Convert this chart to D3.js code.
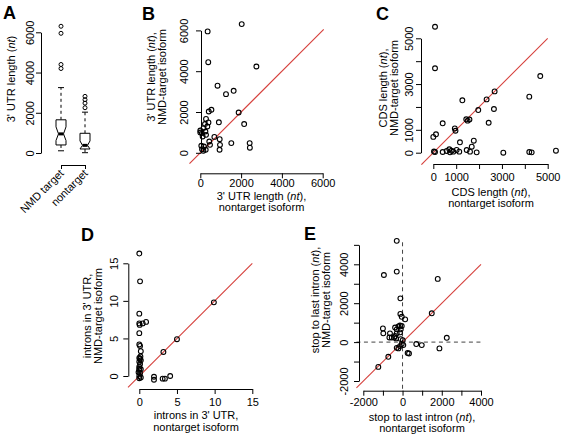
<!DOCTYPE html>
<html><head><meta charset="utf-8">
<script src="https://cdn.jsdelivr.net/npm/d3@7"></script>
<style>
body{margin:0;background:#fff;}
svg{display:block;}
text{font-family:"Liberation Sans",Arial,Helvetica,sans-serif;fill:#000;}
</style></head><body>
<svg id="chart" width="563" height="437"></svg>
<script>
// ---------------- data ----------------
// Panel A: boxplot summary (3' UTR length, nt)
const boxCategories = ["NMD target", "nontarget"];
const boxQ1 = [400, 200];
const boxMedian = [950, 380];
const boxQ3 = [1650, 980];
const boxNotchLow = [620, 200];
const boxNotchHigh = [1300, 600];
const boxWhiskerLow = [110, 15];
const boxWhiskerHigh = [3250, 2030];
const boxOutliersNMD = [4200, 4400, 5950, 6300];
const boxOutliersNontarget = [2250, 2480, 2650, 2815];
const boxTicks = [0, 2000, 4000, 6000];

// Panel B: 3' UTR length
const utrNontarget = [2030,360,390,2750,845,1635,1260,545,415,1880,2150,910,280,400,230,345,160,0,250,80,280,115,0,690,440,950,965,945,1520,2420,2430,180,85,265,150,475,50];
const utrNMD = [6310,5950,4440,4230,3290,3040,2875,2110,2025,1975,1410,1495,1660,1490,1410,1290,1210,1090,1045,965,880,800,995,780,555,670,390,150,475,475,250,310,180,150,100,390,345];
const utrTicks = [0, 2000, 4000, 6000];
const utrDiag = [-530, 6050];

// Panel C: CDS length
const cdsNontarget = [75,75,4675,2680,2330,4195,1270,2650,1965,1440,1580,1500,2420,410,940,970,118,0,1165,1770,1680,30,75,410,585,730,875,1020,1135,1460,1605,1895,3060,4195,4300,5360,700,800];
const cdsNMD = [5505,3690,3350,2680,2330,2450,2290,1910,1865,1460,1450,1400,1310,1285,1060,960,805,690,455,525,262,50,30,30,75,15,45,120,45,118,45,15,0,30,15,87,150,90];
const cdsTicks = [0, 1000, 2000, 3000, 4000, 5000];
const cdsTickLabels = [0, 1000, 3000, 5000];
const cdsDiag = [-520, 5000];

// Panel D: introns in 3' UTR
const intronsNontarget = [0,0.1,9.9,0,0,0.45,0.9,5,3.2,0,0,0.1,0.2,0,0.2,0,0.1,0,0.2,0,0.1,0,0.2,-0.1,1.95,1.95,3.1,3.4,4.1,0,0.1,0,0.15,0.05];
const intronsNMD = [16.3,12.6,9.8,8.3,7.0,7.0,7.2,4.9,3.2,5.7,4.2,4.0,3.3,2.4,2.1,1.9,1.6,1.25,0.9,0.8,0.35,0,-0.2,0.5,-0.1,-0.5,-0.35,-0.35,0,1.0,2.3,-0.3,2.6,6.8];
const intronsTicks = [0, 5, 10, 15];
const intronsDiag = [-1.5, 15];

// Panel E: stop to last intron
const stopNontarget = [-295,-295,-950,1795,-110,1490,-110,-40,135,-1000,-980,-380,-210,-130,-40,-640,-550,-295,-130,-670,-420,-330,-90,10,2255,700,980,1880,-295,-130,-40,-210,40,260,330,-725,-1235,-90,-295,-380];
const stopNMD = [5205,3625,3450,3250,2250,1480,1450,1300,1170,705,450,750,810,850,825,450,240,450,500,240,240,190,155,100,220,-100,-155,-325,-295,-205,-100,-325,-155,-560,-585,-755,-1275,655,655,310];
const stopXTicks = [-2000,-1000,0,1000,2000,3000,4000];
const stopYTicks = [-2000,-1000,0,1000,2000,3000,4000,5000];
const stopTickLabels = [-2000, 0, 2000, 4000];
const stopDiag = [-2350, 4000];
const stopZeroH = [-2350, 4100];
const stopZeroV = [-2400, 5250];

// ---------------- drawing ----------------
const svg = d3.select("#chart");
const FS = 11;
const RED = "#d6403c";
const FONT = '"Liberation Sans",Arial,Helvetica,sans-serif';

function yAxis(scale, ticks, labels, extent, axisX, gap) {
  const s = scale.copy().domain(extent).range(extent.map(scale));
  const g = svg.append("g").attr("transform", `translate(${axisX},0)`)
    .call(d3.axisLeft(s).tickValues(ticks).tickSize(5).tickSizeOuter(0)
      .tickFormat(d => labels.includes(d) ? String(d) : ""));
  g.attr("font-size", FS).attr("font-family", FONT);
  g.select(".domain").attr("stroke", "#000");
  g.selectAll(".tick line").attr("stroke", "#000");
  g.selectAll(".tick text").attr("transform", "rotate(-90)")
    .attr("x", 0).attr("y", -gap).attr("dy", 0).attr("text-anchor", "middle");
  return g;
}
function xAxis(scale, ticks, labels, extent, axisY, gap) {
  const s = scale.copy().domain(extent).range(extent.map(scale));
  const g = svg.append("g").attr("transform", `translate(0,${axisY})`)
    .call(d3.axisBottom(s).tickValues(ticks).tickSize(5).tickSizeOuter(0)
      .tickFormat(d => labels.includes(d) ? String(d) : ""));
  g.attr("font-size", FS).attr("font-family", FONT);
  g.select(".domain").attr("stroke", "#000");
  g.selectAll(".tick line").attr("stroke", "#000");
  g.selectAll(".tick text").attr("y", gap).attr("dy", 0);
  return g;
}
// lines: array of arrays of [string, italic]
function title(x, y, rotate, lines, lineH) {
  const g = svg.append("g").attr("transform", `translate(${x},${y})` + (rotate ? " rotate(-90)" : ""));
  lines.forEach((segs, i) => {
    const t = g.append("text").attr("x", 0).attr("y", i * lineH)
      .attr("text-anchor", "middle").attr("font-size", FS);
    segs.forEach(([s, it]) => t.append("tspan").text(s).attr("font-style", it ? "italic" : "normal"));
  });
}
function letter(ch, x, y) {
  svg.append("text").attr("x", x).attr("y", y).attr("font-size", 18)
    .attr("font-weight", "bold").text(ch);
}
function points(xs, ys, x, y) {
  svg.append("g").selectAll("circle").data(xs.map((v, i) => [v, ys[i]])).join("circle")
    .attr("cx", d => x(d[0])).attr("cy", d => y(d[1])).attr("r", 2.4)
    .attr("fill", "none").attr("stroke", "#000").attr("stroke-width", 1.1);
}
function diag(d, x, y) {
  svg.append("line").attr("x1", x(d[0])).attr("y1", y(d[0]))
    .attr("x2", x(d[1])).attr("y2", y(d[1]))
    .attr("stroke", RED).attr("stroke-width", 1.1);
}

// ---- Panel A ----
{
  const y = d3.scaleLinear().domain([0, 6000]).range([153, 32.3]);
  const x = d3.scalePoint().domain(boxCategories).range([61, 85]);
  yAxis(y, boxTicks, boxTicks, [0, 6000], 41, 7);
  const outl = [boxOutliersNMD, boxOutliersNontarget];
  boxCategories.forEach((c, i) => {
    const cx = x(c), w = 5, cw = 3;
    const g = svg.append("g").attr("stroke", "#000").attr("fill", "none");
    g.append("line").attr("x1", cx).attr("x2", cx).attr("y1", y(boxQ3[i])).attr("y2", y(boxWhiskerHigh[i])).attr("stroke-dasharray", "3,3");
    g.append("line").attr("x1", cx).attr("x2", cx).attr("y1", y(boxQ1[i])).attr("y2", y(boxWhiskerLow[i])).attr("stroke-dasharray", "3,3");
    [boxWhiskerHigh[i], boxWhiskerLow[i]].forEach(v =>
      g.append("line").attr("x1", cx - cw).attr("x2", cx + cw).attr("y1", y(v)).attr("y2", y(v)));
    const pts = [[cx - w, boxQ3[i]], [cx - w, boxNotchHigh[i]], [cx - w / 2, boxMedian[i]], [cx - w, boxNotchLow[i]], [cx - w, boxQ1[i]],
                 [cx + w, boxQ1[i]], [cx + w, boxNotchLow[i]], [cx + w / 2, boxMedian[i]], [cx + w, boxNotchHigh[i]], [cx + w, boxQ3[i]]];
    g.append("path").attr("d", "M" + pts.map(p => p[0] + "," + y(p[1])).join("L") + "Z").attr("fill", "#fff");
    g.append("line").attr("x1", cx - w / 2).attr("x2", cx + w / 2).attr("y1", y(boxMedian[i])).attr("y2", y(boxMedian[i])).attr("stroke-width", 3);
    g.selectAll("circle").data(outl[i]).join("circle").attr("cx", cx).attr("cy", d => y(d)).attr("r", 2);
  });
  const ga = svg.append("g").attr("transform", "translate(0,165)")
    .call(d3.axisBottom(x).tickSize(4).tickSizeOuter(0));
  ga.attr("font-size", FS).attr("font-family", FONT);
  ga.select(".domain").attr("stroke", "#000");
  ga.selectAll(".tick line").attr("stroke", "#000");
  ga.selectAll(".tick text").attr("x", 0).attr("y", 0).attr("dy", 0)
    .attr("transform", "translate(3,9) rotate(-45)").attr("text-anchor", "end");
  title(15, 79, true, [[["3' UTR length (", false], ["nt", true], [")", false]]], 0);
  letter("A", 3, 19);
}

// ---- Panel B ----
{
  const x = d3.scaleLinear().domain([0, 6000]).range([200.3, 322.7]);
  const y = d3.scaleLinear().domain([0, 6000]).range([152.8, 30.4]);
  diag(utrDiag, x, y);
  yAxis(y, utrTicks, utrTicks, [0, 6000], 201, 13);
  xAxis(x, utrTicks, utrTicks, [0, 6000], 173.3, 14.2);
  points(utrNontarget, utrNMD, x, y);
  title(261.5, 200, false, [[["3' UTR length (", false], ["nt", true], ["),", false]], [["nontarget isoform", false]]], 10.5);
  title(155, 77, true, [[["3' UTR length (", false], ["nt", true], ["),", false]], [["NMD-target isoform", false]]], 11);
  letter("B", 142, 20);
}

// ---- Panel C ----
{
  const x = d3.scaleLinear().domain([0, 5000]).range([433.3, 547.7]);
  const y = d3.scaleLinear().domain([0, 5000]).range([152.7, 38.3]);
  diag(cdsDiag, x, y);
  yAxis(y, cdsTicks, cdsTickLabels, [0, 5000], 421, 8);
  xAxis(x, cdsTicks, cdsTickLabels, [0, 5000], 164, 17);
  points(cdsNontarget, cdsNMD, x, y);
  title(491, 196, false, [[["CDS length (", false], ["nt", true], ["),", false]], [["nontarget isoform", false]]], 11);
  title(387, 88, true, [[["CDS length (", false], ["nt", true], ["),", false]], [["NMD-target isoform", false]]], 11);
  letter("C", 376, 20);
}

// ---- Panel D ----
{
  const x = d3.scaleLinear().domain([0, 15]).range([139.3, 252.3]);
  const y = d3.scaleLinear().domain([0, 15]).range([376, 263.3]);
  diag(intronsDiag, x, y);
  yAxis(y, intronsTicks, intronsTicks, [0, 15], 128.3, 10);
  xAxis(x, intronsTicks, intronsTicks, [0, 15], 389, 16.5);
  points(intronsNontarget, intronsNMD, x, y);
  title(196, 419, false, [[["introns in 3' UTR,", false]], [["nontarget isoform", false]]], 12);
  title(91, 316, true, [[["introns in 3' UTR,", false]], [["NMD-target isoform", false]]], 11);
  letter("D", 81, 241);
}

// ---- Panel E ----
{
  const x = d3.scaleLinear().domain([-2000, 4000]).range([363.3, 481]);
  const y = d3.scaleLinear().domain([-2000, 4000]).range([381, 264.3]);
  svg.append("line").attr("x1", x(stopZeroH[0])).attr("x2", x(stopZeroH[1])).attr("y1", y(0)).attr("y2", y(0))
    .attr("stroke", "#444").attr("stroke-dasharray", "4,3.5");
  svg.append("line").attr("x1", x(0)).attr("x2", x(0)).attr("y1", y(stopZeroV[0])).attr("y2", y(stopZeroV[1]))
    .attr("stroke", "#444").attr("stroke-dasharray", "4,3.5");
  diag(stopDiag, x, y);
  yAxis(y, stopYTicks, stopTickLabels, [-2000, 5000], 359, 11.5);
  xAxis(x, stopXTicks, stopTickLabels, [-2000, 4000], 390.7, 15.5);
  points(stopNontarget, stopNMD, x, y);
  title(422, 420.5, false, [[["stop to last intron (", false], ["nt", true], ["),", false]], [["nontarget isoform", false]]], 11.5);
  title(319, 300, true, [[["stop to last intron (", false], ["nt", true], ["),", false]], [["NMD-target isoform", false]]], 11);
  letter("E", 304, 240);
}
</script>
</body></html>
